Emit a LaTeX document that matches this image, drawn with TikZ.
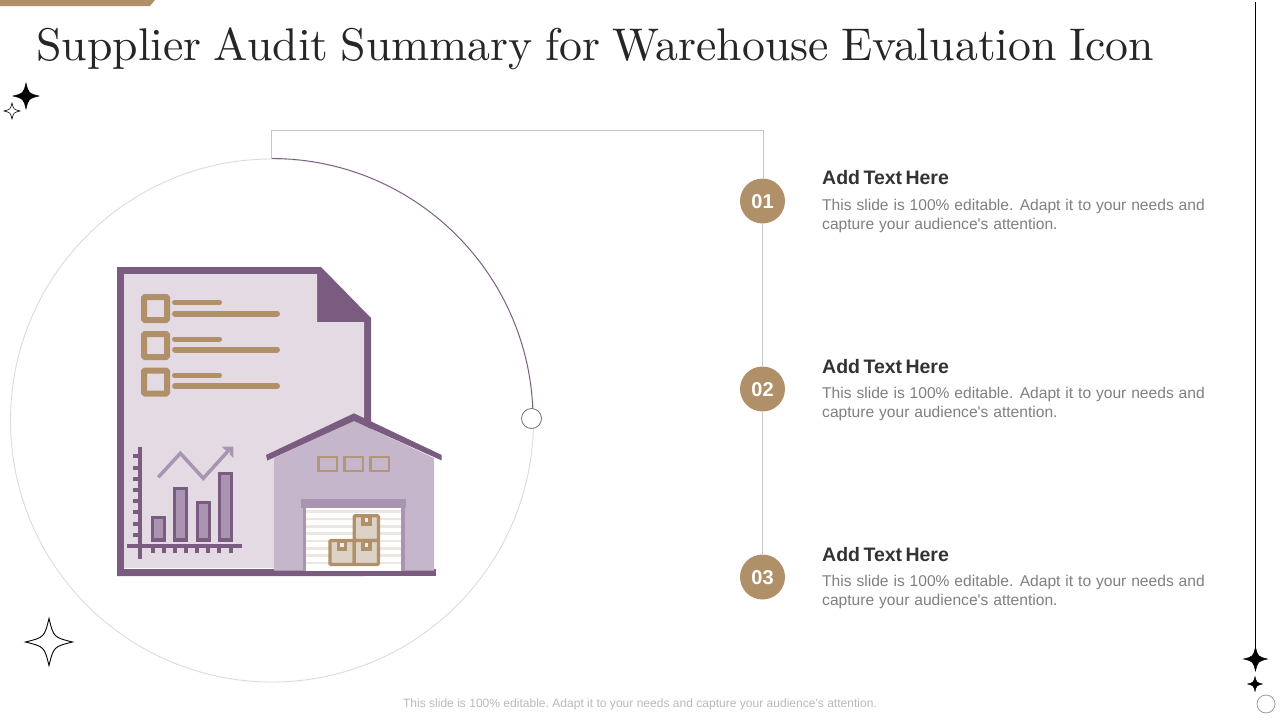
\documentclass[tikz,border=0pt]{standalone}
\usepackage{fontspec}
\newfontfamily\arialish{Liberation Sans}
\newfontfamily\titlefont{lmroman10-regular}[Extension=.otf,WordSpace=0.8]
\newcommand{\headsetup}{\arialish\bfseries\fontsize{19.5}{22}\selectfont\spaceskip 3.4pt\relax}
\newcommand{\blurbsetup}{\arialish\fontsize{15.6}{19}\selectfont\spaceskip 4.9pt\relax}
\definecolor{plum}{HTML}{7A5C80}
\definecolor{docfill}{HTML}{E3DAE4}
\definecolor{tan}{HTML}{B09068}
\definecolor{wall}{HTML}{C5B6CB}
\definecolor{midplum}{HTML}{A994B2}
\definecolor{carton}{HTML}{DCD2C5}
\definecolor{slat}{HTML}{EAE8E0}
\definecolor{ring}{HTML}{DDDADD}
\definecolor{guide}{HTML}{C8C6C8}
\definecolor{inkdark}{HTML}{333333}
\definecolor{titleink}{HTML}{262626}
\definecolor{bodygrey}{HTML}{7F7F7F}
\newcommand{\sparkle}[4]{% cx cy r style
  \draw[#4] (#1,#2-#3) .. controls (#1+0.2*#3,#2-0.2*#3) .. (#1+#3,#2)
    .. controls (#1+0.2*#3,#2+0.2*#3) .. (#1,#2+#3)
    .. controls (#1-0.2*#3,#2+0.2*#3) .. (#1-#3,#2)
    .. controls (#1-0.2*#3,#2-0.2*#3) .. (#1,#2-#3) -- cycle;}
\newcommand{\carton}[4]{% x1 y1 x2 y2
  \draw[tan,line width=3.2pt,fill=carton,rounded corners=1pt] (#1,#2) rectangle (#3,#4);
  \fill[tan] ({(#1+#3)/2-5.3},#2) rectangle ({(#1+#3)/2+5.3},#2+10);
  \fill[docfill!50!white] ({(#1+#3)/2-1.8},#2+2) rectangle ({(#1+#3)/2+1.8},#2+6);}
\tikzset{
  x=1pt,y=-1pt,
  heading/.style={anchor=base west,inner sep=0pt,font=\headsetup,text=inkdark},
  blurb/.style={anchor=north west,inner sep=0pt,align=left,font=\blurbsetup,text=bodygrey},
  badge/.style={circle,fill=tan,minimum size=45pt,inner sep=0pt,text=white,font=\arialish\bfseries\fontsize{20}{24}\selectfont,text height=14pt,text depth=0pt},
  bar/.style={draw=plum,line width=3.5pt,fill=midplum},
  listline/.style={draw=tan,line cap=round},
  checkbox/.style={draw=tan,line width=6pt,rounded corners=1pt,fill=docfill},
  axisline/.style={draw=plum,line width=3.5pt},
  axistick/.style={draw=plum,line width=4pt},
  windowbox/.style={draw=tan!85!wall,line width=2.2pt},
}
\begin{document}
\begin{tikzpicture}
\useasboundingbox (0,0) rectangle (1280,720);
% top band
\fill[tan] (0,0) -- (155,0) -- (150,6) -- (0,6) -- cycle;
% title
\node[anchor=base west,inner sep=0pt,text=titleink,font=\titlefont\fontsize{45.8}{50}\selectfont] (title) at (36,60) {Supplier Audit Summary for Warehouse Evaluation Icon};
% sparkles
\sparkle{26}{96}{13}{fill=black}
\sparkle{12}{111}{8}{draw=black,line width=0.6pt,fill=white}
\sparkle{49}{642}{23.5}{draw=black,line width=0.9pt}
\sparkle{1255.5}{659}{12}{fill=black}
\sparkle{1255}{684}{7.5}{fill=black}
% right rule
\coordinate (ruletop) at (1255.5,2);
\coordinate (rulebot) at (1255.5,650);
\draw[black,line width=0.9pt] (ruletop) -- (rulebot);
\node[circle,draw=gray!80,line width=0.8pt,minimum size=18pt,inner sep=0pt] (endring) at (1266,704) {};
% big circle
\coordinate (ringcentre) at (272,420.5);
\coordinate (arcstart) at (271.5,158.5);
\coordinate (corner) at (763,130);
\draw[ring,line width=0.9pt] (ringcentre) circle[radius=261.5pt];
\draw[plum,line width=0.9pt] (arcstart) arc[start angle=90,end angle=0,radius=261.5pt];
\node[circle,draw=gray!90!black,fill=white,line width=0.8pt,minimum size=20pt,inner sep=0pt] (arcknob) at (531.5,418.5) {};
% badges
\node[badge] (b1) at (762.5,201) {01};
\node[badge] (b2) at (762.5,389) {02};
\node[badge] (b3) at (762.5,577) {03};
\draw[guide,line width=0.9pt] (arcstart) |- (corner) -- (corner |- b1.north);
\draw[guide,line width=0.9pt] (b1.south) -- (b2.north);
\draw[guide,line width=0.9pt] (b2.south) -- (b3.north);
% text blocks
\node[heading] (h1) at (822,184) {Add Text Here};
\node[blurb] (t1) at (822,199) {This slide is 100\% editable. Adapt it to your needs and\\capture your audience's attention.};
\node[heading] (h2) at (822,373) {Add Text Here};
\node[blurb] (t2) at (822,387) {This slide is 100\% editable. Adapt it to your needs and\\capture your audience's attention.};
\node[heading] (h3) at (822,561) {Add Text Here};
\node[blurb] (t3) at (822,575) {This slide is 100\% editable. Adapt it to your needs and\\capture your audience's attention.};
\node[inner sep=0pt,text=gray!55,font=\arialish\frenchspacing\fontsize{12.05}{14}\selectfont] (foot) at (640,704.5) {This slide is 100\% editable. Adapt it to your needs and capture your audience's attention.};
% document
\fill[plum] (117,267) -- (321,267) -- (371,318) -- (371,430) -- (364,430) -- (364,576) -- (117,576) -- cycle;
\fill[docfill] (124,274) -- (317,274) -- (317,322) -- (364,322) -- (364,568) -- (124,568) -- cycle;
\fill[white] (124,568) rectangle (275,569);
\fill[plum] (117,569) rectangle (436,576);
% checklist
\foreach \yt/\ys/\yl in {294/302.5/313.5,331/339/349.5,367.5/375.5/386}{
  \draw[checkbox] (144,\yt+3) rectangle (167,\yt+26);
  \draw[listline,line width=5pt] (174.5,\ys) -- (219.5,\ys);
  \draw[listline,line width=6pt] (175,\yl) -- (277,\yl);
}
% chart
\foreach \yy in {456,467.7,479,490,501,512.3,523.7,534.7} \draw[axistick] (133,\yy) -- (140,\yy);
\foreach \xx in {152.7,164,175,186,197.3,208.3,219.3,230.7} \draw[axistick] (\xx,546) -- (\xx,553);
\draw[axisline] (140,447) -- (140,559);
\draw[axisline] (127,546) -- (242,546);
\draw[bar] (152.7,517.7) rectangle (164.5,540);
\draw[bar] (174.7,488.7) rectangle (186.6,540);
\draw[bar] (197.7,502.7) rectangle (209.3,540);
\draw[bar] (219.7,473.7) rectangle (231.3,540);
\draw[midplum,line width=3.5pt,line join=miter] (158.3,477.3) -- (180.3,453.3) -- (203.3,478.3) -- (229,450);
\fill[midplum] (221.7,446.7) -- (233.3,446.7) -- (233.3,458) -- (229.8,454.5) -- (229.8,450.2) -- (225.5,450.2) -- cycle;
% warehouse
\fill[wall] (274,458) -- (354,421) -- (434,458) -- (434,570.7) -- (274,570.7) -- cycle;
\fill[plum] (354,413.3) -- (441.7,455) -- (441.7,460.5) -- (354,421) -- (267.3,460.5) -- (266,455) -- cycle;
\fill[plum] (274,570.7) rectangle (435.7,575.9);
\foreach \wa/\wb in {317.3/338.3,343.3/364.3,369.3/390}{
  \draw[windowbox] (\wa+1.1,456.8) rectangle (\wb-1.1,471.2);
}
\fill[midplum] (301,499.3) rectangle (405.7,507.7);
\fill[midplum] (303.3,507.7) rectangle (405,570.7);
\fill[white] (305.7,507.7) rectangle (401,570.7);
\foreach \sy in {511.7,519,526.3,533.7,541,548.3,555.7,563}{
  \fill[slat] (305.7,\sy-1.3) rectangle (401,\sy+1.3);
}
\carton{354.3}{515.7}{378.4}{540.5}
\carton{330}{540.5}{354.3}{564.5}
\carton{354.3}{540.5}{378.4}{564.5}
\end{tikzpicture}
\end{document}
